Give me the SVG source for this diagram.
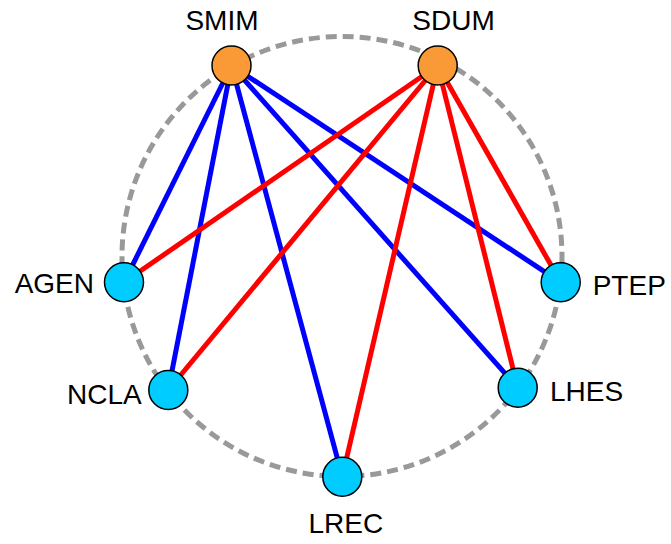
<svg xmlns="http://www.w3.org/2000/svg" width="671" height="544" viewBox="0 0 671 544">
<style>
.ring{fill:none;stroke:#999999;stroke-width:5;stroke-dasharray:11 6}
.b{stroke:#0000FF;stroke-width:5;fill:none}
.r{stroke:#FF0000;stroke-width:5;fill:none}
.hub{fill:#FA9A36;stroke:#000;stroke-width:1.5}
.leaf{fill:#00CCFF;stroke:#000;stroke-width:1.5}
text{font-family:"Liberation Sans",Arial,sans-serif;font-size:28px;fill:#000}
</style>
<rect width="671" height="544" fill="#fff"/>
<circle class="ring" cx="342" cy="256.5" r="220"/>
<g id="connectors">
<line class="b" x1="231.5" y1="65.5" x2="124" y2="282.3"/>
<line class="b" x1="231.5" y1="65.5" x2="168.3" y2="390"/>
<line class="b" x1="231.5" y1="65.5" x2="342.3" y2="476.7"/>
<line class="b" x1="231.5" y1="65.5" x2="517.7" y2="387.7"/>
<line class="b" x1="231.5" y1="65.5" x2="560.7" y2="282.3"/>
<line class="r" x1="437.7" y1="65.5" x2="124" y2="282.3"/>
<line class="r" x1="437.7" y1="65.5" x2="168.3" y2="390"/>
<line class="r" x1="437.7" y1="65.5" x2="342.3" y2="476.7"/>
<line class="r" x1="437.7" y1="65.5" x2="517.7" y2="387.7"/>
<line class="r" x1="437.7" y1="65.5" x2="560.7" y2="282.3"/>
</g>
<g id="SMIM"><circle class="hub" cx="231.5" cy="65.5" r="19.5"/><text x="222" y="29.5" text-anchor="middle">SMIM</text></g>
<g id="SDUM"><circle class="hub" cx="437.7" cy="65.5" r="19.5"/><text x="453.5" y="29.5" text-anchor="middle">SDUM</text></g>
<g id="AGEN"><circle class="leaf" cx="124" cy="282.3" r="19.5"/><text x="94" y="292.7" text-anchor="end">AGEN</text></g>
<g id="NCLA"><circle class="leaf" cx="168.3" cy="390" r="19.5"/><text x="141.7" y="404.3" text-anchor="end">NCLA</text></g>
<g id="LREC"><circle class="leaf" cx="342.3" cy="476.7" r="19.5"/><text x="345.8" y="533.3" text-anchor="middle">LREC</text></g>
<g id="LHES"><circle class="leaf" cx="517.7" cy="387.7" r="19.5"/><text x="550" y="400.7">LHES</text></g>
<g id="PTEP"><circle class="leaf" cx="560.7" cy="282.3" r="19.5"/><text x="592.7" y="295">PTEP</text></g>
</svg>
